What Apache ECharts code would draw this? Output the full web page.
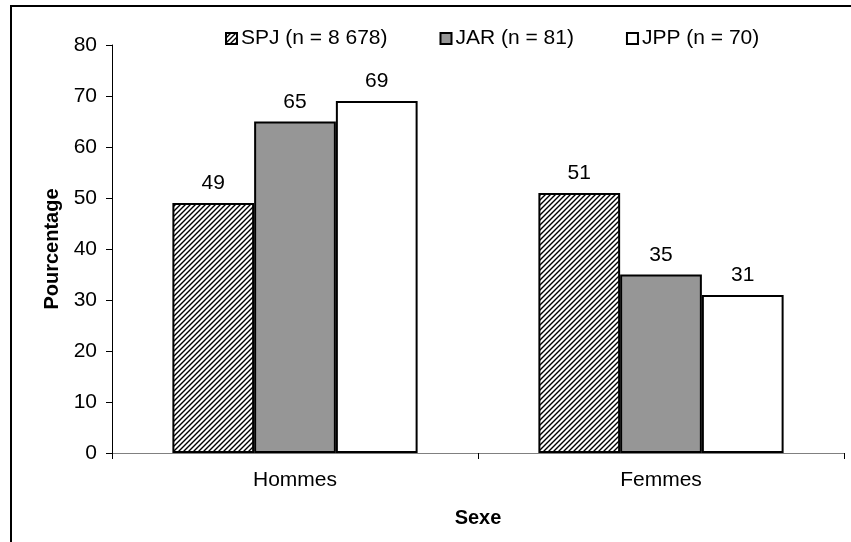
<!DOCTYPE html>
<html><head><meta charset="utf-8">
<script src="https://cdn.jsdelivr.net/npm/echarts@6/dist/echarts.min.js"></script>
<style>html,body{margin:0;padding:0;background:#fff}#c{width:851px;height:542px}</style>
</head><body><div id="c"></div>
<script>
const categories = ['Hommes', 'Femmes'];
const seriesNames = ['SPJ (n = 8 678)', 'JAR (n = 81)', 'JPP (n = 70)'];
const spj = [49, 51];
const jar = [65, 35];
const jpp = [69, 31];
const yTicks = [0, 10, 20, 30, 40, 50, 60, 70, 80];

function hatch() {
  const n = 5;
  const c = document.createElement('canvas');
  c.width = n; c.height = n;
  const g = c.getContext('2d');
  g.fillStyle = '#fff'; g.fillRect(0, 0, n, n);
  g.strokeStyle = '#000'; g.lineWidth = 1.4;
  g.beginPath();
  g.moveTo(-1, n + 1); g.lineTo(n + 1, -1);
  g.moveTo(-1, 1); g.lineTo(1, -1);
  g.moveTo(n - 1, n + 1); g.lineTo(n + 1, n - 1);
  g.stroke();
  return c;
}
const font = 'Liberation Sans, Arial, sans-serif';
const fs = 21;
const chart = echarts.init(document.getElementById('c'));
const lbl = { show: true, position: 'top', distance: 9, color: '#000', fontSize: fs, fontFamily: font };
const border = { borderColor: '#000', borderWidth: 2 };
chart.setOption({
  animation: false,
  graphic: [{ type: 'rect', shape: { x: 11, y: 6, width: 900, height: 600 }, style: { fill: 'none', stroke: '#000', lineWidth: 2 }, z: -1 }],
  legend: {
    left: 220, top: 23, icon: 'rect', itemWidth: 11, itemHeight: 11, itemGap: 52,
    itemStyle: { borderColor: '#000', borderWidth: 2 },
    textStyle: { fontSize: fs, fontFamily: font, color: '#000', padding: [0, 0, 0, -1] },
    data: seriesNames
  },
  grid: { left: 112, right: 7, top: 45, bottom: 89 },
  xAxis: {
    type: 'category', data: categories,
    name: 'Sexe', nameLocation: 'middle', nameGap: 55,
    nameTextStyle: { fontSize: 20, fontWeight: 'bold', fontFamily: font, color: '#000' },
    axisLine: { lineStyle: { color: '#808080', width: 1 } },
    axisTick: { show: true, length: 6, lineStyle: { color: '#000' } },
    axisLabel: { fontSize: fs, fontFamily: font, color: '#000', margin: 17 }
  },
  yAxis: {
    type: 'value', min: yTicks[0], max: yTicks[yTicks.length - 1], interval: 10,
    name: 'Pourcentage', nameLocation: 'middle', nameGap: 43,
    nameTextStyle: { fontSize: 20, fontWeight: 'bold', fontFamily: font, color: '#000' },
    axisLine: { show: true, lineStyle: { color: '#000', width: 1 } },
    axisTick: { show: true, length: 6, lineStyle: { color: '#000' } },
    splitLine: { show: false },
    axisLabel: { fontSize: fs, fontFamily: font, color: '#000', margin: 15 }
  },
  series: [
    { name: seriesNames[0], type: 'bar', data: spj, barGap: '0%', barCategoryGap: '33%',
      itemStyle: Object.assign({ color: { image: hatch(), repeat: 'repeat' } }, border), label: lbl },
    { name: seriesNames[1], type: 'bar', data: jar,
      itemStyle: Object.assign({ color: '#969696' }, border), label: lbl },
    { name: seriesNames[2], type: 'bar', data: jpp,
      itemStyle: Object.assign({ color: '#fff' }, border), label: lbl }
  ]
});
</script></body></html>
